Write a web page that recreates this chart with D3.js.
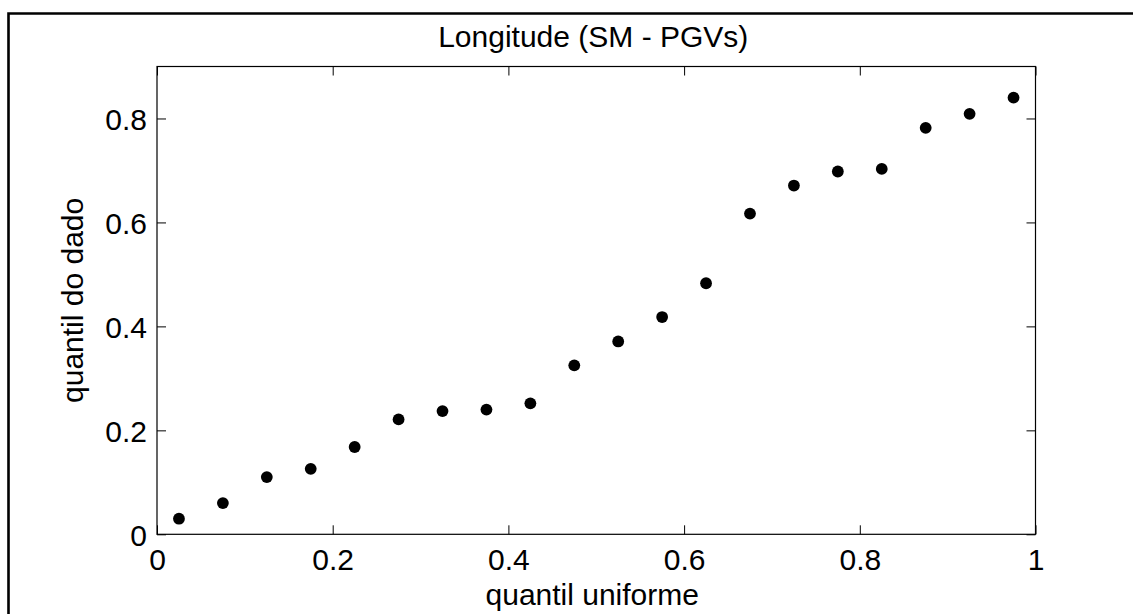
<!DOCTYPE html>
<html>
<head>
<meta charset="utf-8">
<script src="https://cdn.jsdelivr.net/npm/d3@7/dist/d3.min.js"></script>
<style>
  body { margin: 0; background: #fff; overflow: hidden; }
  svg { display: block; font-family: "Liberation Sans", Arial, sans-serif; }
</style>
</head>
<body>
<svg id="canvas"></svg>
<script>
// quantis uniformes (x) e quantis do dado (y)
let uniformQuantiles = [0.025, 0.075, 0.125, 0.175, 0.225, 0.275, 0.325, 0.375, 0.425, 0.475,
                        0.525, 0.575, 0.625, 0.675, 0.725, 0.775, 0.825, 0.875, 0.925, 0.975];
let dataQuantiles = [0.030, 0.060, 0.110, 0.126, 0.168, 0.221, 0.237, 0.240, 0.252, 0.325,
                     0.371, 0.418, 0.483, 0.617, 0.671, 0.698, 0.703, 0.782, 0.809, 0.840];
let xTicks = [0, 0.2, 0.4, 0.6, 0.8, 1];
let yTicks = [0, 0.2, 0.4, 0.6, 0.8];

let width = 1133;
let height = 614;

let plotLeft = 157, plotRight = 1035.5, plotTop = 66.5, plotBottom = 534.3;

let canvas = d3.select("#canvas")
  .attr("width", width)
  .attr("height", height);

// moldura externa (so aparecem as bordas de cima e da esquerda)
canvas.append("path")
  .attr("d", "M8.5," + height + "V13.5H" + width)
  .attr("fill", "none")
  .attr("stroke", "#000")
  .attr("stroke-width", 2.6);

let xScale = d3.scaleLinear().domain([0, 1]).range([plotLeft, plotRight]);
let yScale = d3.scaleLinear().domain([0, 0.9]).range([plotBottom, plotTop]);

let points = uniformQuantiles.map((u, i) => ({ x: u, y: dataQuantiles[i] }));

let styleAxis = (g) => {
  g.select(".domain").remove();
  g.selectAll(".tick line").attr("stroke", "#000").attr("stroke-width", 1);
  g.selectAll(".tick text").attr("fill", "#000").style("font-size", "30px");
};

// eixo x
canvas.append("g")
  .attr("transform", "translate(0," + plotBottom + ")")
  .call(d3.axisBottom(xScale).tickValues(xTicks).tickFormat(d3.format("~g"))
    .tickSizeInner(-9).tickSizeOuter(0).tickPadding(14.5))
  .call(styleAxis);

canvas.append("g")
  .attr("transform", "translate(0," + plotTop + ")")
  .call(d3.axisTop(xScale).tickValues(xTicks).tickFormat("")
    .tickSizeInner(-9).tickSizeOuter(0))
  .call(styleAxis);

// eixo y
canvas.append("g")
  .attr("transform", "translate(" + plotLeft + ",0)")
  .call(d3.axisLeft(yScale).tickValues(yTicks).tickFormat(d3.format("~g"))
    .tickSizeInner(-9).tickSizeOuter(0).tickPadding(10))
  .call(styleAxis)
  .selectAll(".tick text").attr("dy", "0.38em");

canvas.append("g")
  .attr("transform", "translate(" + plotRight + ",0)")
  .call(d3.axisRight(yScale).tickValues(yTicks).tickFormat("")
    .tickSizeInner(-9).tickSizeOuter(0))
  .call(styleAxis);

// caixa do grafico
canvas.append("rect")
  .attr("x", plotLeft).attr("y", plotTop)
  .attr("width", plotRight - plotLeft).attr("height", plotBottom - plotTop)
  .attr("fill", "none")
  .attr("stroke", "#000")
  .attr("stroke-width", 1.2);

// pontos
canvas.append("g").selectAll("circle")
  .data(points)
  .enter()
  .append("circle")
  .attr("cx", (d) => xScale(d.x))
  .attr("cy", (d) => yScale(d.y))
  .attr("r", 5.9)
  .attr("fill", "#000");

// textos
canvas.append("text")
  .attr("x", (plotLeft + plotRight) / 2 - 3)
  .attr("y", 46.5)
  .attr("text-anchor", "middle")
  .style("font-size", "30px")
  .text("Longitude (SM - PGVs)");

canvas.append("text")
  .attr("x", (plotLeft + plotRight) / 2 - 4)
  .attr("y", 605)
  .attr("text-anchor", "middle")
  .style("font-size", "30px")
  .text("quantil uniforme");

canvas.append("text")
  .attr("transform", "translate(83," + ((plotTop + plotBottom) / 2) + ") rotate(-90)")
  .attr("text-anchor", "middle")
  .style("font-size", "30px")
  .text("quantil do dado");
</script>
</body>
</html>
